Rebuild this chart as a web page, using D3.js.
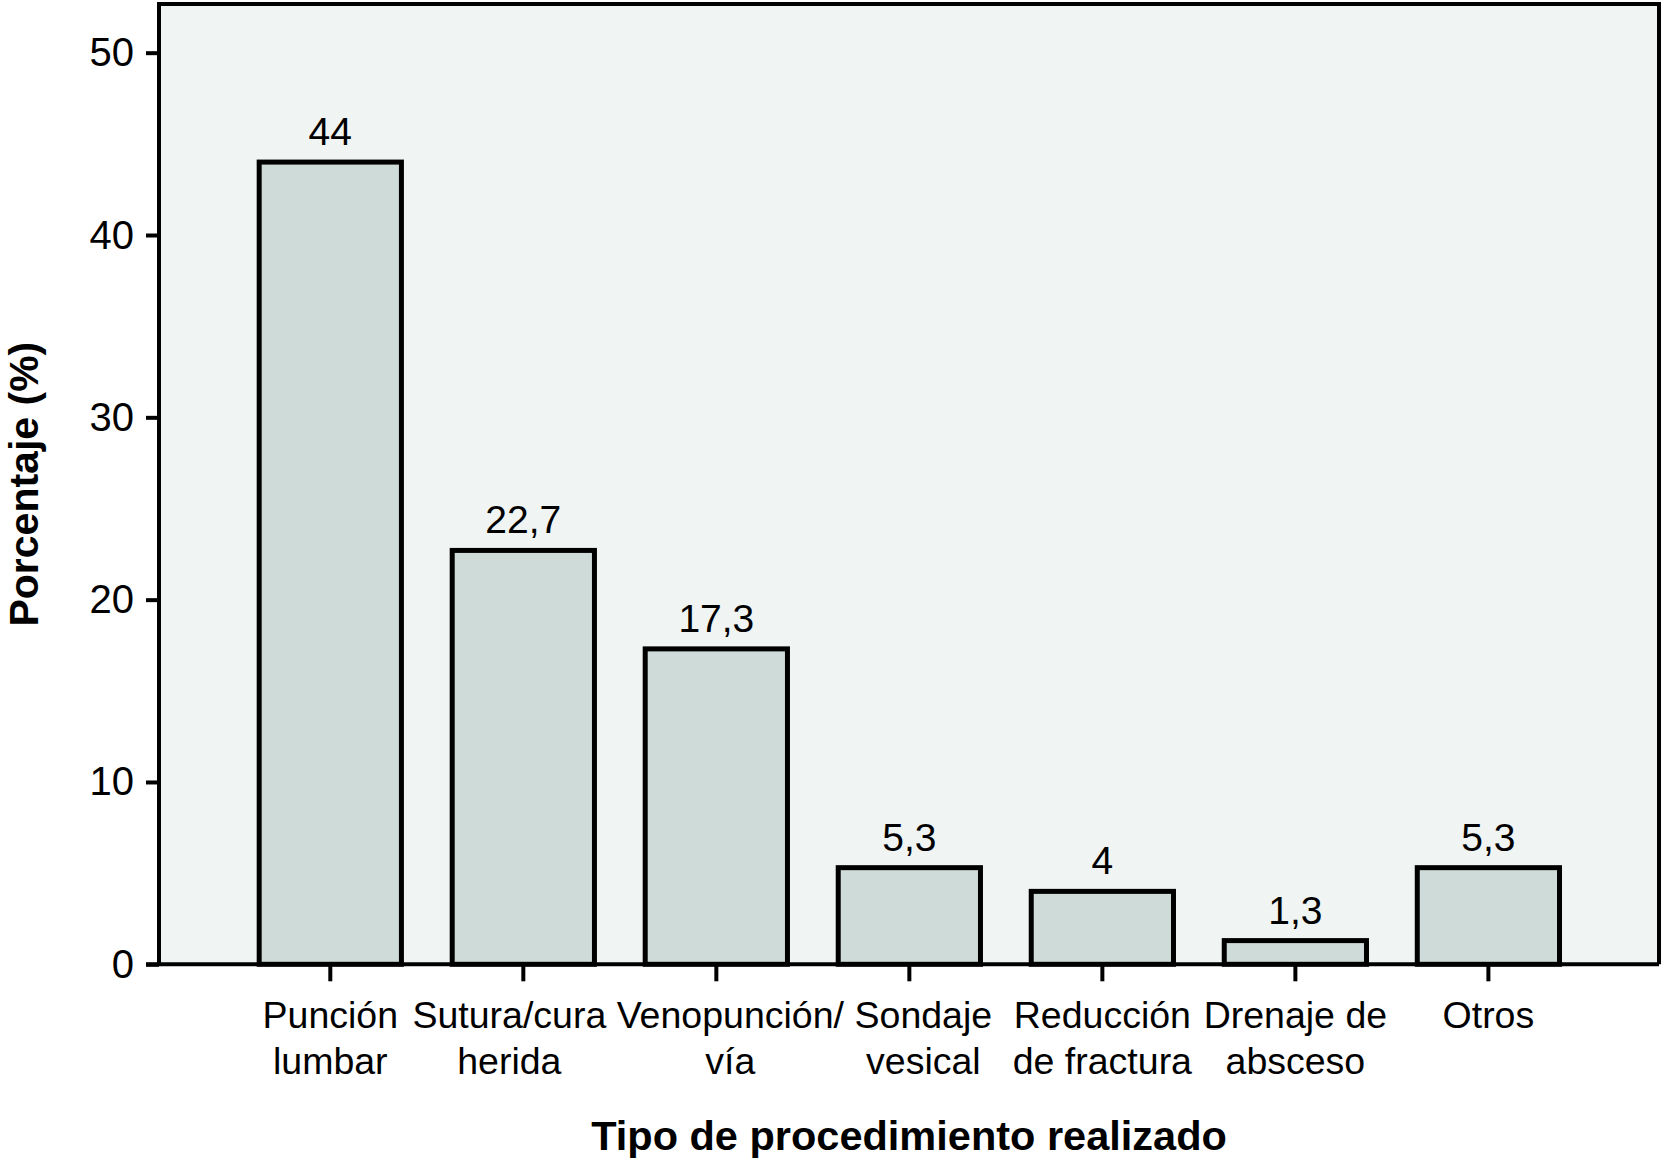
<!DOCTYPE html>
<html>
<head>
<meta charset="utf-8">
<script src="https://cdn.jsdelivr.net/npm/d3@7"></script>
<style>
  html, body { margin: 0; padding: 0; background: #ffffff; }
  svg { display: block; }
  text { font-family: "Liberation Sans", Arial, Helvetica, sans-serif; fill: #000; }
</style>
</head>
<body>
<svg id="chart" width="1667" height="1160"></svg>
<script>
// ---- data ----
const categories = ["Punción\nlumbar", "Sutura/cura\nherida", "Venopunción/\nvía", "Sondaje\nvesical", "Reducción\nde fractura", "Drenaje de\nabsceso", "Otros"];
const values = [44, 22.7, 17.3, 5.3, 4, 1.3, 5.3];
const valueLabels = ["44", "22,7", "17,3", "5,3", "4", "1,3", "5,3"];
const yTickValues = [0, 10, 20, 30, 40, 50];
const yTitle = "Porcentaje (%)";
const xTitle = "Tipo de procedimiento realizado";

// ---- layout ----
const svg = d3.select("#chart");
const frame = { left: 159, right: 1659, top: 4, bottom: 964.3 };
const labelShift = [0, -14, 14, 14, 0, 0, 0];

const y = d3.scaleLinear().domain([0, 52.67]).range([frame.bottom, frame.top]);
const x = d3.scaleBand().domain(categories).range([233.8, 1584.9]).paddingInner(0.263).paddingOuter(0.1315);

// plot background
svg.append("rect")
  .attr("x", frame.left).attr("y", frame.top)
  .attr("width", frame.right - frame.left).attr("height", frame.bottom - frame.top)
  .attr("fill", "#f0f4f3");

// bars
svg.append("g").selectAll("rect").data(values).join("rect")
  .attr("x", (d, i) => x(categories[i]))
  .attr("y", d => y(d))
  .attr("width", x.bandwidth())
  .attr("height", d => y(0) - y(d))
  .attr("fill", "#cfdbd9")
  .attr("stroke", "#000")
  .attr("stroke-width", 5);

// value labels
svg.append("g").selectAll("text").data(values).join("text")
  .attr("x", (d, i) => x(categories[i]) + x.bandwidth() / 2)
  .attr("y", d => y(d) - 17)
  .attr("text-anchor", "middle")
  .style("font-size", "39px")
  .text((d, i) => valueLabels[i]);

// frame (top, right, left)
svg.append("path")
  .attr("d", `M${frame.left},${frame.bottom} V${frame.top} H${frame.right} V${frame.bottom}`)
  .attr("fill", "none").attr("stroke", "#000").attr("stroke-width", 4);

// y axis
const yAxis = d3.axisLeft(y).tickValues(yTickValues).tickSize(13).tickPadding(12).tickFormat(d3.format("d"));
const gy = svg.append("g").attr("transform", `translate(${frame.left},0)`).call(yAxis);
gy.select(".domain").remove();
gy.selectAll(".tick line").attr("stroke", "#000").attr("stroke-width", 4);
gy.selectAll(".tick text")
  .attr("dy", null).attr("dominant-baseline", null)
  .attr("y", 13)
  .style("font-size", "40px").style("font-family", '"Liberation Sans", Arial, sans-serif');

// bottom axis line
svg.append("line")
  .attr("x1", frame.left - 13).attr("x2", frame.right)
  .attr("y1", frame.bottom).attr("y2", frame.bottom)
  .attr("stroke", "#000").attr("stroke-width", 4);

// x axis ticks + labels
const xAxis = d3.axisBottom(x).tickSize(17).tickFormat("");
const gx = svg.append("g").attr("transform", `translate(0,${frame.bottom})`).call(xAxis);
gx.select(".domain").remove();
gx.selectAll(".tick line").attr("stroke", "#000").attr("stroke-width", 4);

const catG = svg.append("g");
categories.forEach((c, i) => {
  const lines = c.split("\n");
  const t = catG.append("text")
    .attr("text-anchor", "middle")
    .attr("x", x(c) + x.bandwidth() / 2 + labelShift[i])
    .attr("y", 1028)
    .style("font-size", "37.5px");
  lines.forEach((ln, j) => {
    t.append("tspan")
      .attr("x", x(c) + x.bandwidth() / 2 + labelShift[i])
      .attr("y", 1028 + j * 46)
      .text(ln);
  });
});

// axis titles
svg.append("text")
  .attr("x", (frame.left + frame.right) / 2)
  .attr("y", 1150)
  .attr("text-anchor", "middle")
  .style("font-size", "41.5px").style("font-weight", "bold")
  .text(xTitle);

svg.append("text")
  .attr("transform", `translate(38,${(frame.top + frame.bottom) / 2}) rotate(-90)`)
  .attr("text-anchor", "middle")
  .style("font-size", "41px").style("font-weight", "bold")
  .text(yTitle);
</script>
</body>
</html>
